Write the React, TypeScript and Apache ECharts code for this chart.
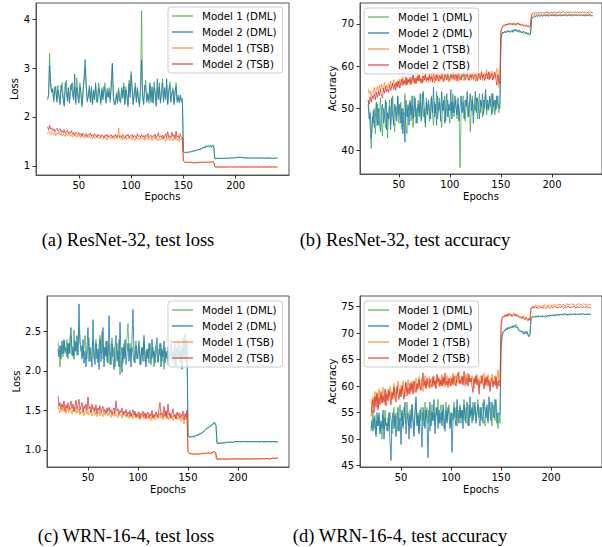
import React, { useEffect, useRef } from "react";
import * as echarts from "echarts";

// Epoch indices (x values) shared by all series
const epochs: number[] = Array.from({ length: 221 }, (_, i) => 20 + i);

const seriesNames = ["Model 1 (DML)", "Model 2 (DML)", "Model 1 (TSB)", "Model 2 (TSB)"];

// (a) ResNet-32, test loss
const aDml1 = [2.40,2.45,3.30,2.60,2.52,2.55,2.30,2.62,2.48,2.35,
2.65,2.40,2.30,2.55,2.70,2.45,2.25,2.60,2.75,2.40,
2.50,2.30,2.65,2.55,2.70,2.40,2.62,2.25,2.80,2.50,
2.35,2.70,2.45,2.20,2.55,2.75,3.00,2.60,2.30,2.45,
2.65,2.35,2.55,2.28,2.50,2.40,2.62,2.30,2.48,2.70,
2.45,2.25,2.60,2.40,2.55,2.70,2.35,2.50,2.42,2.60,
2.30,2.75,3.05,2.45,2.30,2.25,2.50,2.35,2.60,2.40,
2.28,2.55,2.45,2.70,2.30,2.62,2.40,2.20,2.75,2.50,
2.93,2.60,2.30,2.45,2.70,2.35,2.55,2.40,2.20,2.62,
4.17,2.45,2.30,2.60,2.75,2.35,2.50,2.28,2.65,2.40,
2.55,2.30,2.72,2.45,2.25,2.60,2.40,2.70,2.32,2.50,
2.78,2.35,2.55,2.40,2.65,2.28,2.50,2.72,2.38,2.45,
2.60,2.30,2.48,2.70,2.35,2.45,2.28,2.42,2.30,2.35,
1.30,1.28,1.27,1.28,1.29,1.27,1.28,1.30,1.29,1.31,
1.30,1.32,1.31,1.33,1.34,1.33,1.35,1.36,1.35,1.38,
1.40,1.37,1.42,1.39,1.41,1.38,1.42,1.40,1.43,1.41,
1.16,1.15,1.15,1.16,1.15,1.16,1.15,1.16,1.16,1.15,
1.16,1.16,1.15,1.16,1.17,1.16,1.16,1.17,1.16,1.17,
1.17,1.18,1.17,1.18,1.18,1.17,1.18,1.17,1.17,1.16,
1.17,1.16,1.16,1.17,1.16,1.16,1.17,1.16,1.16,1.16,
1.16,1.17,1.16,1.16,1.16,1.17,1.16,1.16,1.15,1.16,
1.16,1.16,1.17,1.16,1.16,1.15,1.16,1.16,1.16,1.17,1.16];
const aDml2 = [2.35,2.42,3.05,2.70,2.50,2.58,2.35,2.55,2.62,2.30,
2.55,2.45,2.25,2.65,2.50,2.35,2.22,2.70,2.55,2.32,
2.60,2.28,2.55,2.68,2.45,2.35,2.88,2.30,2.60,2.42,
2.28,2.62,2.50,2.25,2.48,2.80,3.17,2.70,2.35,2.40,
2.58,2.30,2.62,2.25,2.55,2.35,2.70,2.40,2.30,2.60,
2.50,2.30,2.55,2.35,2.62,2.48,2.28,2.58,2.40,2.52,
2.35,2.60,3.10,2.40,2.25,2.30,2.45,2.28,2.55,2.32,
2.35,2.60,2.38,2.62,2.25,2.55,2.45,2.25,2.68,2.40,
2.85,2.55,2.25,2.50,2.62,2.30,2.60,2.35,2.25,2.55,
3.17,2.40,2.25,2.65,2.58,2.30,2.45,2.35,2.70,2.30,
2.62,2.28,2.60,2.50,2.22,2.78,2.35,2.62,2.28,2.45,
2.70,2.30,2.60,2.35,2.78,2.25,2.55,2.65,2.30,2.50,
2.55,2.25,2.52,2.62,2.30,2.40,2.32,2.45,2.35,2.38,
1.29,1.28,1.27,1.27,1.28,1.28,1.29,1.29,1.30,1.30,
1.31,1.31,1.32,1.32,1.33,1.34,1.34,1.35,1.37,1.36,
1.39,1.38,1.41,1.40,1.42,1.39,1.41,1.38,1.42,1.40,
1.15,1.15,1.16,1.15,1.16,1.15,1.16,1.15,1.15,1.16,
1.15,1.16,1.16,1.15,1.16,1.16,1.17,1.16,1.17,1.17,
1.17,1.17,1.18,1.17,1.17,1.18,1.17,1.17,1.16,1.17,
1.16,1.17,1.16,1.16,1.16,1.17,1.16,1.16,1.17,1.16,
1.16,1.16,1.16,1.17,1.16,1.16,1.16,1.16,1.16,1.16,
1.16,1.17,1.16,1.16,1.16,1.16,1.15,1.16,1.16,1.16,1.16];
const aTsb1 = [1.66,1.72,1.68,1.63,1.70,1.66,1.64,1.69,1.62,1.67,
1.65,1.70,1.63,1.67,1.61,1.66,1.64,1.60,1.68,1.63,
1.62,1.66,1.60,1.64,1.59,1.65,1.61,1.63,1.58,1.64,
1.60,1.62,1.58,1.66,1.59,1.61,1.57,1.63,1.60,1.58,
1.62,1.57,1.60,1.55,1.61,1.58,1.56,1.62,1.57,1.59,
1.55,1.60,1.57,1.54,1.61,1.56,1.58,1.53,1.60,1.57,
1.55,1.59,1.56,1.61,1.54,1.58,1.60,1.56,1.78,1.57,
1.55,1.60,1.53,1.58,1.56,1.61,1.54,1.57,1.59,1.55,
1.58,1.53,1.60,1.56,1.52,1.59,1.55,1.57,1.53,1.60,
1.56,1.54,1.58,1.52,1.57,1.55,1.59,1.53,1.56,1.58,
1.52,1.57,1.55,1.60,1.53,1.56,1.51,1.58,1.54,1.57,
1.53,1.62,1.55,1.50,1.57,1.54,1.59,1.52,1.56,1.55,
1.51,1.58,1.54,1.60,1.52,1.56,1.50,1.55,1.53,1.58,
1.12,1.09,1.08,1.08,1.07,1.08,1.07,1.07,1.08,1.07,
1.07,1.06,1.07,1.07,1.06,1.07,1.07,1.08,1.07,1.07,
1.08,1.07,1.08,1.07,1.08,1.08,1.07,1.09,1.08,1.08,
0.99,0.98,0.98,0.99,0.98,0.99,0.98,0.98,0.99,0.98,
0.99,0.98,0.98,0.99,0.98,0.98,0.99,0.98,0.99,0.98,
0.98,0.99,0.98,0.98,0.99,0.98,0.99,0.98,0.98,0.99,
0.98,0.98,0.99,0.98,0.98,0.99,0.98,0.98,0.99,0.98,
0.99,0.98,0.98,0.98,0.99,0.98,0.98,0.99,0.98,0.98,
0.99,0.98,0.98,0.99,0.98,0.98,0.99,0.98,0.98,0.99,0.98];
const aTsb2 = [1.80,1.74,1.83,1.75,1.78,1.72,1.76,1.70,1.74,1.77,
1.71,1.73,1.76,1.69,1.72,1.68,1.74,1.67,1.71,1.73,
1.66,1.70,1.67,1.72,1.65,1.68,1.63,1.69,1.66,1.64,
1.68,1.63,1.66,1.61,1.67,1.64,1.62,1.66,1.60,1.65,
1.63,1.67,1.61,1.64,1.60,1.66,1.62,1.59,1.65,1.61,
1.63,1.59,1.64,1.61,1.58,1.63,1.60,1.65,1.59,1.62,
1.60,1.64,1.58,1.62,1.60,1.65,1.58,1.63,1.61,1.59,
1.62,1.58,1.64,1.60,1.57,1.63,1.61,1.65,1.58,1.62,
1.60,1.64,1.58,1.63,1.61,1.57,1.66,1.60,1.62,1.58,
1.64,1.59,1.62,1.57,1.63,1.60,1.66,1.58,1.61,1.63,
1.58,1.62,1.60,1.65,1.57,1.61,1.68,1.59,1.62,1.58,
1.63,1.56,1.60,1.66,1.58,1.70,1.59,1.62,1.57,1.69,
1.60,1.64,1.57,1.71,1.59,1.62,1.56,1.66,1.58,1.57,
1.10,1.08,1.07,1.07,1.08,1.07,1.07,1.08,1.07,1.06,
1.07,1.07,1.06,1.07,1.07,1.08,1.07,1.07,1.08,1.07,
1.08,1.08,1.07,1.08,1.08,1.07,1.08,1.09,1.08,1.09,
0.98,0.97,0.98,0.98,0.97,0.98,0.98,0.97,0.98,0.98,
0.97,0.98,0.98,0.97,0.98,0.98,0.98,0.97,0.98,0.98,
0.98,0.97,0.98,0.98,0.98,0.97,0.98,0.98,0.97,0.98,
0.98,0.98,0.97,0.98,0.98,0.97,0.98,0.98,0.98,0.97,
0.98,0.98,0.97,0.98,0.98,0.98,0.97,0.98,0.98,0.98,
0.97,0.98,0.98,0.98,0.97,0.98,0.98,0.98,0.97,0.98,0.98];

// (b) ResNet-32, test accuracy
const bDml1 = [52.0,49.5,45.0,40.5,48.0,46.5,50.0,44.0,47.5,51.0,
46.0,49.0,52.5,47.0,43.5,50.0,48.0,45.5,51.5,43.0,
48.5,52.0,46.0,49.5,53.0,47.0,44.5,50.5,48.0,52.5,
46.5,49.0,51.5,45.0,50.0,48.5,53.5,46.0,44.0,51.0,
49.5,52.0,47.0,50.5,45.5,53.0,48.0,50.0,46.5,52.0,
49.0,51.5,47.5,53.5,48.0,50.0,45.5,52.5,49.5,51.0,
47.0,50.5,53.0,48.5,46.0,51.5,49.0,54.0,47.5,50.0,
52.5,48.0,45.5,51.0,49.5,53.0,47.0,50.5,52.0,48.5,
46.5,51.5,49.0,53.5,48.0,50.5,52.0,47.5,51.0,49.0,
36.0,48.5,51.5,53.0,49.5,47.0,52.0,50.0,48.0,51.5,
44.5,50.0,53.0,48.5,51.0,49.5,52.5,47.5,50.5,53.5,
49.0,51.5,48.0,52.0,50.0,53.0,48.5,51.0,49.5,52.5,
50.5,53.5,49.0,51.5,48.5,52.0,50.0,53.0,49.0,51.5,
66.5,67.5,68.0,67.8,68.2,67.9,68.4,68.1,68.3,67.9,
68.2,68.5,68.0,68.6,68.3,68.7,68.2,68.4,68.0,68.3,
67.9,68.2,67.8,68.1,67.7,67.9,67.5,67.8,67.3,67.6,
71.0,71.5,71.6,71.8,71.7,71.9,71.8,72.0,71.9,71.8,
72.0,71.9,72.1,72.0,71.8,72.1,72.0,72.2,71.9,72.1,
72.0,72.2,71.9,72.1,72.0,71.8,72.1,72.2,72.0,71.9,
72.1,72.0,72.2,71.9,72.1,72.0,72.3,72.1,71.9,72.2,
72.0,72.1,71.9,72.2,72.0,72.1,72.2,71.9,72.1,72.0,
72.2,72.0,72.1,71.9,72.2,72.0,72.1,72.3,72.0,72.1,72.0];
const bDml2 = [51.0,47.5,49.0,43.0,46.0,49.5,45.5,48.0,51.5,46.0,
50.0,47.0,44.5,49.5,51.0,46.5,48.5,52.0,45.0,49.0,
47.5,50.5,45.0,52.5,48.0,46.0,51.0,49.5,47.0,53.0,
48.5,51.0,46.5,50.0,44.0,49.0,42.0,52.0,48.0,50.5,
46.0,51.5,48.5,53.0,47.5,50.0,52.5,46.5,49.5,51.0,
48.0,53.5,47.0,50.5,54.0,49.0,46.5,51.5,48.5,52.0,
50.0,47.5,52.5,49.0,55.0,48.0,51.0,46.0,53.0,49.5,
51.5,47.0,54.0,49.5,52.0,46.5,50.5,53.5,48.0,51.0,
49.5,54.5,47.5,51.5,49.0,53.0,50.0,48.5,52.5,47.0,
50.5,53.0,49.0,51.5,47.5,52.0,50.5,54.0,48.0,51.0,
53.5,49.5,52.0,46.5,51.0,54.0,49.0,52.5,50.0,47.5,
52.0,50.5,53.5,48.5,51.5,54.5,49.5,52.0,50.0,53.0,
51.0,48.5,53.5,50.5,52.0,49.5,53.0,51.0,50.5,50.0,
67.0,67.8,68.1,67.9,68.3,68.0,68.2,68.5,68.1,68.4,
68.3,68.1,68.6,68.4,68.8,68.3,68.5,68.2,68.6,68.1,
68.2,67.9,68.3,68.0,67.8,68.1,67.6,67.9,67.4,67.7,
71.2,71.6,71.7,71.9,71.8,72.0,71.9,72.1,71.9,72.0,
72.1,71.9,72.0,72.2,71.9,72.1,72.0,71.8,72.1,72.0,
72.2,72.0,71.9,72.1,72.0,72.2,71.9,72.0,72.1,72.2,
71.9,72.1,72.0,72.2,72.1,71.9,72.0,72.2,72.1,72.0,
71.9,72.1,72.2,72.0,72.1,71.9,72.2,72.0,72.1,72.2,
72.0,72.1,71.9,72.2,72.0,72.1,72.0,72.2,72.1,71.9,72.0];
const bTsb1 = [54.7,53.5,54.2,53.0,54.0,53.8,55.0,53.6,54.4,55.2,
54.0,55.5,54.3,55.8,54.6,55.0,56.2,54.5,55.6,54.8,
56.0,55.2,56.5,54.9,55.8,56.8,55.3,56.1,55.0,56.6,
55.7,57.0,55.5,56.3,57.5,55.9,56.7,55.4,57.2,56.0,
56.8,55.6,57.4,56.2,57.9,56.5,55.8,57.1,56.4,58.0,
56.6,57.3,55.9,57.8,56.3,57.0,58.2,56.5,57.5,56.1,
57.7,56.4,58.3,56.8,57.2,56.0,57.9,56.6,58.5,57.0,
56.3,57.6,56.9,58.1,56.5,57.4,58.6,56.7,57.8,56.2,
57.5,58.4,56.8,57.2,58.8,56.6,57.9,57.1,58.3,56.4,
57.7,56.9,58.5,57.3,56.5,58.0,57.6,58.9,56.8,57.4,
58.2,56.7,57.8,59.0,57.1,56.4,58.6,57.3,56.9,58.4,
57.5,58.8,56.6,57.9,58.3,57.0,59.2,57.6,56.8,58.5,
57.4,58.9,57.8,56.9,58.2,57.3,59.5,59.0,55.0,56.5,
68.5,69.3,69.6,69.8,69.5,70.0,69.7,70.1,69.8,70.2,
69.9,70.1,69.7,70.3,70.0,69.8,70.2,69.9,70.1,69.6,
69.8,70.0,69.5,69.7,69.4,69.8,69.3,69.6,69.2,69.5,
72.0,72.2,72.1,72.3,72.0,72.2,72.1,72.3,72.2,72.0,
72.3,72.1,72.2,72.0,72.3,72.1,72.4,72.2,72.0,72.3,
72.1,72.2,72.4,72.1,72.3,72.0,72.2,72.1,72.3,72.2,
72.0,72.3,72.1,72.2,72.4,72.1,72.0,72.2,72.3,72.1,
72.2,72.0,72.3,72.1,72.2,72.0,72.3,72.1,71.9,72.2,
72.0,72.1,72.3,71.9,72.1,72.0,72.2,71.9,72.1,72.0,71.9];
const bTsb2 = [52.0,51.0,52.8,51.5,53.0,52.3,53.5,52.0,53.8,52.6,
54.0,53.0,54.5,53.3,52.5,54.8,53.6,55.2,53.9,54.6,
53.8,55.5,54.2,55.0,56.0,54.5,55.7,54.3,56.3,55.1,
56.5,54.8,55.9,57.0,55.4,56.6,55.8,57.5,55.6,56.9,
56.2,57.3,55.7,56.8,57.8,56.1,57.2,55.9,57.6,56.5,
57.9,56.3,57.0,56.0,57.7,56.8,58.0,56.4,57.3,56.7,
58.2,56.9,57.5,56.2,58.4,57.1,56.6,58.0,57.2,56.5,
57.8,56.9,58.6,57.0,56.3,58.1,57.4,56.8,58.3,57.1,
56.6,58.0,57.3,58.7,56.9,57.6,58.2,56.5,57.9,58.5,
57.2,56.7,58.1,57.5,58.8,56.8,57.4,58.3,57.0,56.6,
58.0,57.3,58.6,56.9,57.7,58.4,57.1,56.5,58.2,57.6,
56.8,58.5,57.2,58.0,56.6,57.9,58.3,57.0,58.7,56.9,
57.5,58.2,56.7,57.8,58.6,57.2,55.5,58.0,56.2,55.8,
68.0,69.0,69.5,69.6,69.9,69.7,70.0,69.8,70.2,69.9,
70.1,69.8,70.2,70.0,69.7,70.1,69.9,70.3,69.8,70.0,
69.7,69.9,69.6,69.8,69.5,69.7,69.4,69.6,69.3,69.5,
72.3,72.5,72.6,72.4,72.7,72.5,72.6,72.8,72.5,72.7,
72.6,72.8,72.5,72.7,72.6,72.9,72.6,72.7,72.5,72.8,
72.7,72.6,72.9,72.7,72.5,72.8,72.6,72.9,72.7,72.6,
72.8,73.0,72.7,72.6,72.9,72.7,72.8,72.6,72.9,72.7,
72.6,72.8,72.7,72.9,72.6,72.8,72.7,72.5,72.8,72.7,
72.9,72.6,72.8,72.7,72.5,72.8,72.6,72.7,72.9,72.6,72.7];

// (c) WRN-16-4, test loss
const cDml1 = [2.36,2.20,2.05,2.32,2.25,2.18,2.38,2.22,2.28,2.40,
2.15,2.35,2.22,2.45,2.28,2.18,2.52,2.25,2.35,2.20,
2.30,2.55,2.40,2.25,2.32,2.18,2.28,2.45,2.22,2.15,
2.35,2.42,2.20,2.12,2.28,2.38,2.15,2.25,2.40,2.18,
2.10,2.32,2.45,2.22,2.50,2.15,2.30,2.20,2.38,2.12,
2.25,2.35,2.08,2.28,2.42,2.18,2.30,2.05,2.25,2.35,
2.15,2.40,1.95,2.22,2.30,2.10,2.35,2.18,2.28,2.42,
2.60,2.25,2.35,2.18,2.30,2.22,2.12,2.28,2.38,2.20,
2.15,2.32,2.25,2.08,2.30,2.20,2.38,2.12,2.25,2.18,
2.28,2.10,2.35,2.22,2.15,2.30,2.05,2.25,2.32,2.18,
2.10,2.28,2.20,2.35,2.12,2.25,2.02,2.30,2.18,2.22,
2.08,2.25,2.15,2.32,2.20,2.12,2.28,2.05,2.22,2.30,
2.15,2.25,2.18,2.32,2.10,2.28,2.20,2.45,2.15,2.30,
1.20,1.17,1.16,1.17,1.16,1.17,1.18,1.17,1.18,1.18,
1.19,1.19,1.20,1.21,1.22,1.22,1.24,1.25,1.26,1.28,
1.27,1.29,1.30,1.31,1.32,1.33,1.34,1.33,1.30,1.09,
1.08,1.08,1.09,1.08,1.09,1.09,1.08,1.09,1.09,1.10,
1.09,1.10,1.09,1.10,1.10,1.09,1.10,1.11,1.10,1.10,
1.11,1.10,1.10,1.11,1.10,1.10,1.11,1.10,1.10,1.11,
1.10,1.10,1.11,1.10,1.10,1.11,1.10,1.10,1.10,1.11,
1.10,1.10,1.10,1.11,1.10,1.10,1.10,1.11,1.10,1.10,
1.10,1.11,1.10,1.10,1.10,1.11,1.10,1.10,1.11,1.10,1.10];
const cDml2 = [2.28,2.18,2.32,2.15,2.38,2.22,2.40,2.25,2.30,2.18,
2.35,2.22,2.42,2.55,2.20,2.30,2.15,2.38,2.25,2.45,
2.20,2.85,2.35,2.28,2.15,2.40,2.10,2.25,2.05,2.32,
2.55,2.12,2.30,2.18,2.05,2.65,2.20,2.08,2.35,2.15,
2.28,2.02,2.40,2.12,2.25,2.55,2.05,2.30,2.18,2.38,
2.10,2.70,2.25,2.08,2.35,2.15,2.02,2.30,2.45,2.12,
2.25,2.05,2.62,2.18,1.98,2.30,2.15,2.40,2.08,2.22,
2.35,2.12,2.28,2.05,2.40,2.78,2.20,2.10,2.32,2.15,
2.25,2.38,2.08,2.20,2.30,2.12,2.45,2.18,2.05,2.28,
2.15,2.35,2.22,2.08,2.40,2.18,2.25,2.10,2.30,2.42,
2.12,2.22,2.35,2.05,2.28,2.18,2.38,2.10,2.25,2.15,
2.30,2.08,2.22,2.40,2.12,2.25,2.18,2.35,2.05,2.28,
2.20,2.38,2.10,2.25,2.02,2.42,2.15,2.48,2.10,2.40,
1.18,1.16,1.16,1.16,1.17,1.16,1.17,1.17,1.18,1.19,
1.18,1.20,1.21,1.20,1.22,1.23,1.23,1.25,1.27,1.27,
1.28,1.28,1.30,1.30,1.32,1.32,1.35,1.34,1.31,1.08,
1.08,1.09,1.08,1.09,1.08,1.09,1.09,1.09,1.10,1.09,
1.10,1.09,1.10,1.10,1.09,1.10,1.10,1.10,1.11,1.10,
1.10,1.11,1.10,1.10,1.11,1.10,1.11,1.10,1.11,1.10,
1.10,1.11,1.10,1.10,1.11,1.10,1.10,1.11,1.10,1.10,
1.11,1.10,1.10,1.10,1.11,1.10,1.10,1.10,1.10,1.11,
1.10,1.10,1.11,1.10,1.10,1.10,1.11,1.10,1.10,1.10,1.10];
const cTsb1 = [1.55,1.50,1.47,1.53,1.49,1.56,1.48,1.52,1.46,1.54,
1.50,1.47,1.53,1.49,1.45,1.51,1.48,1.55,1.46,1.50,
1.47,1.52,1.44,1.49,1.46,1.51,1.43,1.48,1.52,1.45,
1.49,1.44,1.47,1.50,1.43,1.46,1.51,1.44,1.48,1.42,
1.46,1.49,1.43,1.47,1.45,1.42,1.48,1.44,1.46,1.50,
1.43,1.47,1.44,1.41,1.46,1.43,1.48,1.42,1.45,1.44,
1.41,1.46,1.43,1.45,1.40,1.44,1.47,1.42,1.45,1.41,
1.44,1.40,1.46,1.42,1.45,1.39,1.43,1.46,1.41,1.44,
1.40,1.43,1.38,1.45,1.41,1.44,1.39,1.42,1.46,1.40,
1.43,1.39,1.42,1.37,1.44,1.40,1.43,1.38,1.41,1.45,
1.39,1.42,1.47,1.40,1.43,1.38,1.44,1.41,1.50,1.39,
1.42,1.38,1.45,1.40,1.43,1.37,1.41,1.44,1.39,1.42,
1.38,1.43,1.40,1.36,1.42,1.39,1.33,1.41,1.38,1.45,
0.98,0.96,0.95,0.95,0.94,0.95,0.94,0.95,0.94,0.95,
0.95,0.94,0.95,0.95,0.96,0.95,0.95,0.96,0.95,0.96,
0.96,0.95,0.96,0.96,0.97,0.96,0.98,0.97,0.89,0.88,
0.89,0.88,0.88,0.88,0.89,0.88,0.88,0.88,0.89,0.88,
0.88,0.89,0.88,0.88,0.88,0.89,0.88,0.89,0.88,0.88,
0.89,0.88,0.88,0.89,0.88,0.88,0.89,0.88,0.89,0.88,
0.88,0.89,0.88,0.89,0.88,0.89,0.88,0.89,0.89,0.88,
0.89,0.88,0.89,0.89,0.88,0.89,0.89,0.88,0.89,0.89,
0.89,0.89,0.88,0.89,0.89,0.89,0.90,0.89,0.89,0.90,0.89];
const cTsb2 = [1.68,1.55,1.60,1.52,1.58,1.54,1.62,1.50,1.57,1.53,
1.60,1.51,1.56,1.62,1.52,1.58,1.49,1.55,1.63,1.51,
1.57,1.64,1.50,1.55,1.60,1.48,1.56,1.52,1.58,1.50,
1.67,1.52,1.55,1.47,1.58,1.51,1.54,1.49,1.57,1.46,
1.53,1.50,1.56,1.47,1.52,1.55,1.48,1.51,1.46,1.53,
1.49,1.54,1.47,1.51,1.45,1.50,1.53,1.46,1.62,1.49,
1.52,1.45,1.50,1.47,1.53,1.44,1.49,1.46,1.51,1.43,
1.48,1.45,1.50,1.42,1.47,1.51,1.44,1.49,1.41,1.46,
1.43,1.48,1.40,1.46,1.44,1.49,1.42,1.47,1.39,1.45,
1.48,1.41,1.46,1.43,1.50,1.40,1.45,1.42,1.48,1.44,
1.41,1.52,1.60,1.44,1.47,1.42,1.55,1.43,1.49,1.41,
1.58,1.44,1.47,1.40,1.46,1.52,1.42,1.45,1.39,1.48,
1.43,1.47,1.40,1.45,1.42,1.49,1.38,1.46,1.41,1.50,
0.97,0.96,0.95,0.95,0.95,0.94,0.95,0.95,0.94,0.95,
0.95,0.95,0.94,0.95,0.95,0.96,0.95,0.96,0.95,0.96,
0.96,0.96,0.95,0.96,0.96,0.97,0.98,0.97,0.96,0.88,
0.88,0.88,0.89,0.88,0.88,0.89,0.88,0.88,0.88,0.89,
0.88,0.88,0.89,0.88,0.89,0.88,0.88,0.89,0.88,0.89,
0.88,0.89,0.88,0.88,0.89,0.88,0.89,0.88,0.88,0.89,
0.89,0.88,0.89,0.88,0.88,0.89,0.89,0.88,0.89,0.88,
0.88,0.89,0.89,0.88,0.89,0.89,0.88,0.89,0.89,0.89,
0.89,0.88,0.89,0.89,0.89,0.90,0.89,0.89,0.89,0.90,0.90];

// (d) WRN-16-4, test accuracy
const dDml1 = [51.5,53.0,55.5,52.0,54.5,51.0,53.5,52.5,55.0,51.5,
53.0,50.0,54.5,52.0,55.5,53.0,51.5,54.0,52.5,55.0,
53.5,51.0,54.5,56.0,52.5,55.0,53.0,51.5,54.0,56.5,
53.5,55.0,52.0,56.0,54.5,53.0,57.0,54.0,52.5,55.5,
53.5,56.5,54.0,52.0,55.5,57.0,53.0,55.0,51.5,54.5,
56.0,53.5,55.0,52.5,57.0,54.0,56.0,53.0,55.5,51.5,
54.0,56.5,53.5,55.0,52.5,56.0,54.5,57.5,53.0,55.0,
56.5,53.5,55.5,52.0,54.5,57.0,53.5,55.5,56.5,54.0,
52.5,55.0,53.5,57.0,54.0,56.0,52.5,55.5,54.0,56.5,
53.0,55.5,54.0,57.5,53.5,56.0,55.0,52.5,56.5,54.0,
55.5,53.0,57.0,54.5,56.0,53.5,55.0,57.5,54.0,56.0,
53.5,55.5,57.0,54.0,52.5,56.0,54.5,53.0,55.5,57.0,
54.0,52.5,56.5,55.0,53.5,57.5,55.0,52.0,54.5,53.0,
66.5,69.0,70.0,70.3,70.5,70.8,70.6,71.0,70.9,71.2,
71.0,71.3,71.1,71.5,71.2,71.7,71.3,71.0,70.6,70.3,
70.5,70.2,69.9,70.3,70.0,70.4,70.1,69.7,69.4,69.8,
72.8,73.0,73.1,72.9,73.2,73.0,73.1,73.3,73.0,73.2,
73.1,73.3,73.0,73.2,73.1,72.9,73.2,73.3,73.1,73.4,
73.2,73.4,73.3,73.5,73.2,73.4,73.6,73.3,73.5,73.4,
73.6,73.4,73.5,73.7,73.4,73.6,73.5,73.3,73.6,73.5,
73.4,73.6,73.5,73.7,73.5,73.4,73.6,73.5,73.7,73.6,
73.5,73.7,73.6,73.4,73.6,73.5,73.7,73.6,73.4,73.6,73.5];
const dDml2 = [52.0,53.5,51.5,54.0,53.0,50.5,55.0,52.5,54.5,51.0,
53.5,52.0,55.5,50.0,54.0,52.5,53.0,51.5,55.0,49.5,
46.0,53.5,55.0,52.0,54.5,50.5,53.0,56.0,51.5,54.0,
49.0,55.5,52.5,54.0,57.0,51.0,53.5,55.0,50.0,54.5,
52.0,56.5,53.0,50.5,55.0,58.0,52.5,54.5,51.0,55.5,
53.0,48.5,56.0,54.0,52.0,55.5,53.0,46.5,54.5,57.0,
52.5,55.0,53.5,57.5,51.0,54.5,56.0,52.0,55.5,53.0,
55.0,52.5,56.5,54.0,51.5,55.5,53.0,56.0,54.5,52.0,
55.0,47.5,53.5,56.0,54.0,52.5,57.5,54.5,53.0,56.0,
54.0,55.5,52.0,56.5,54.5,53.0,57.0,55.0,52.5,58.0,
54.5,56.0,53.5,55.5,57.0,53.0,55.0,56.5,54.0,52.5,
56.0,54.5,53.0,57.5,55.5,54.0,56.5,53.5,58.0,55.0,
53.5,57.0,55.5,54.0,57.5,56.0,53.0,55.0,54.5,55.0,
68.0,69.5,70.3,70.5,70.4,70.9,70.7,71.1,70.8,71.0,
71.2,71.0,71.4,71.1,71.3,71.0,71.2,70.8,70.5,70.4,
70.2,70.4,70.0,69.8,70.2,69.9,70.3,69.6,69.3,69.9,
72.9,73.1,73.0,73.2,73.0,73.1,73.2,73.0,73.3,73.1,
73.2,73.0,73.3,73.1,73.2,73.3,73.1,73.4,73.2,73.3,
73.4,73.3,73.5,73.2,73.4,73.5,73.3,73.6,73.4,73.5,
73.5,73.6,73.4,73.5,73.7,73.5,73.4,73.6,73.5,73.7,
73.6,73.4,73.6,73.5,73.6,73.7,73.5,73.6,73.4,73.6,
73.6,73.5,73.7,73.5,73.6,73.4,73.6,73.5,73.7,73.5,73.6];
const dTsb1 = [57.5,55.0,58.0,56.5,59.0,57.0,58.5,56.0,59.5,57.5,
58.5,57.0,59.8,58.0,56.5,59.0,57.5,59.5,58.0,60.0,
57.5,59.0,58.3,60.5,57.8,59.5,58.5,61.0,59.0,58.0,
60.0,58.5,61.0,59.5,58.0,60.5,59.0,61.2,59.8,58.5,
60.8,59.5,61.0,58.8,60.0,61.5,59.2,60.5,61.8,59.5,
60.3,61.5,59.0,60.8,62.0,59.8,61.0,60.2,61.8,59.5,
60.8,61.5,60.0,62.0,59.8,61.2,60.5,61.8,59.9,61.0,
60.4,62.2,60.0,61.5,59.8,61.0,62.0,60.3,61.5,60.0,
61.8,60.5,62.5,60.2,61.3,62.0,60.6,61.5,62.8,60.4,
61.2,62.0,60.5,61.8,60.0,62.3,61.0,62.5,60.7,61.5,
60.8,62.0,61.2,59.5,61.8,60.5,62.2,61.0,59.8,61.5,
62.0,60.3,61.5,62.5,60.0,61.8,60.8,62.2,61.0,59.8,
61.5,62.3,60.5,61.0,62.0,60.0,61.5,63.0,60.5,61.2,
70.5,72.5,73.0,73.2,73.5,73.2,73.6,73.3,73.8,73.5,
73.6,73.2,73.5,73.8,73.4,73.6,73.2,73.5,73.3,73.0,
73.2,72.9,73.3,73.0,72.7,73.1,72.8,72.5,72.9,72.6,
74.8,75.0,75.2,74.9,75.1,75.3,75.0,75.2,74.9,75.1,
75.2,75.0,75.3,75.1,75.4,75.2,75.0,75.3,75.2,75.4,
75.1,75.3,75.2,75.5,75.3,75.1,75.4,75.2,75.5,75.3,
75.4,75.2,75.5,75.3,75.1,75.4,75.6,75.3,75.5,75.2,
75.4,75.6,75.3,75.5,75.2,75.4,75.3,75.5,75.6,75.3,
75.5,75.2,75.4,75.6,75.3,75.5,75.4,75.2,75.5,75.3,75.4];
const dTsb2 = [54.3,56.5,57.5,55.0,58.0,56.0,58.8,55.5,57.8,56.5,
59.0,56.8,58.2,57.0,59.5,56.3,58.5,57.2,59.2,57.8,
56.5,58.8,57.5,59.8,58.2,57.0,60.0,58.5,57.5,59.5,
58.0,60.2,58.8,57.5,59.5,60.8,58.2,59.7,58.5,60.5,
59.0,60.5,58.5,61.0,59.8,58.8,60.5,59.5,61.2,60.0,
59.2,60.8,62.5,60.0,61.0,59.5,61.5,60.2,59.8,61.3,
60.5,59.8,61.8,60.3,61.0,59.5,62.3,60.8,61.5,60.0,
61.2,60.0,61.8,60.5,62.5,60.2,61.0,59.8,61.5,60.8,
60.0,61.5,60.3,62.0,61.0,60.0,61.8,62.5,60.5,61.2,
60.5,61.8,60.2,62.8,61.0,60.3,61.5,60.0,62.2,60.8,
61.5,60.0,58.8,61.5,60.5,62.0,60.2,61.3,58.5,61.0,
60.5,62.0,60.8,59.5,61.5,60.2,61.8,60.0,61.2,59.0,
60.8,61.5,59.8,61.0,60.2,61.8,59.5,61.0,60.0,60.5,
71.5,72.8,73.2,73.0,73.4,73.1,73.5,73.2,73.6,73.3,
73.5,73.1,73.4,73.6,73.2,73.5,73.1,73.3,73.0,72.8,
73.0,72.7,73.1,72.8,72.5,72.9,72.6,72.3,72.7,72.4,
74.5,74.8,74.9,74.7,75.0,74.8,74.9,74.6,74.8,75.0,
74.8,74.9,74.7,75.0,74.8,74.6,74.9,75.1,74.8,74.7,
74.9,75.0,74.7,74.9,75.1,74.8,74.9,74.7,75.0,74.8,
74.9,75.1,74.8,74.7,75.0,74.9,74.8,75.1,74.9,74.7,
75.0,74.8,74.9,75.1,74.8,74.7,75.0,74.9,74.8,75.0,
74.9,74.7,74.9,75.0,74.8,74.9,75.1,74.8,74.7,74.9,74.8];

const xTicks = [50, 100, 150, 200];
const yTicksA = [1, 2, 3, 4];
const yTicksB = [40, 50, 60, 70];
const yTicksC = [1.0, 1.5, 2.0, 2.5];
const yTicksD = [45, 50, 55, 60, 65, 70, 75];

const captions = [
  "(a) ResNet-32, test loss",
  "(b) ResNet-32, test accuracy",
  "(c) WRN-16-4, test loss",
  "(d) WRN-16-4, test accuracy",
];

const COLORS = [
  "rgba(44,160,44,0.65)",
  "rgba(31,119,180,0.8)",
  "rgba(255,127,14,0.7)",
  "rgba(214,39,40,0.7)",
];

const FONT = "DejaVu Sans";

export default function App() {
  const ref = useRef<HTMLDivElement>(null);
  useEffect(() => {
    if (!ref.current) return;
    const chart = echarts.init(ref.current, null, { renderer: "svg" });

    const panels = [
      { data: [aDml1, aDml2, aTsb1, aTsb2], grid: { left: 36, top: 3, width: 253, height: 172 },
        xMin: 9, xMax: 251, yMin: 0.816, yMax: 4.327, yTicks: yTicksA, yName: "Loss", yGap: 15, xGap: 16,
        legend: { left: 168, top: 7 }, fmt: (v: number) => String(v) },
      { data: [bDml1, bDml2, bTsb1, bTsb2], grid: { left: 360, top: 3, width: 245, height: 171 },
        xMin: 12, xMax: 249, yMin: 34.48, yMax: 74.97, yTicks: yTicksB, yName: "Accuracy", yGap: 23, xGap: 17,
        legend: { left: 364, top: 8 }, fmt: (v: number) => String(v) },
      { data: [cDml1, cDml2, cTsb1, cTsb2], grid: { left: 47, top: 296, width: 242, height: 171 },
        xMin: 9, xMax: 251, yMin: 0.782, yMax: 2.95, yTicks: yTicksC, yName: "Loss", yGap: 26, xGap: 17,
        legend: { left: 168, top: 301 }, fmt: (v: number) => v.toFixed(1) },
      { data: [dDml1, dDml2, dTsb1, dTsb2], grid: { left: 360, top: 296, width: 245, height: 171 },
        xMin: 9, xMax: 251, yMin: 44.76, yMax: 77.0, yTicks: yTicksD, yName: "Accuracy", yGap: 23, xGap: 17,
        legend: { left: 364, top: 301 }, fmt: (v: number) => String(v) },
    ];

    const axisLineStyle = { color: "#555", width: 1 };
    const labelStyle = { fontFamily: FONT, fontSize: 10, color: "#000" };

    const option: any = {
      animation: false,
      backgroundColor: "#fff",
      grid: panels.map((p) => ({ ...p.grid, show: true, borderColor: "#555", borderWidth: 1, containLabel: false })),
      xAxis: panels.map((p, i) => ({
        type: "value", gridIndex: i, min: p.xMin, max: p.xMax,
        name: "Epochs", nameLocation: "middle", nameGap: p.xGap,
        nameTextStyle: labelStyle,
        axisLine: { show: true, lineStyle: axisLineStyle },
        axisTick: { show: true, length: 3.5, lineStyle: { color: "#333" }, customValues: xTicks },
        axisLabel: { ...labelStyle, margin: 5, customValues: xTicks },
        splitLine: { show: false },
      })),
      yAxis: panels.map((p, i) => ({
        type: "value", gridIndex: i, min: p.yMin, max: p.yMax,
        name: p.yName, nameLocation: "middle", nameGap: p.yGap,
        nameTextStyle: labelStyle,
        axisLine: { show: true, lineStyle: axisLineStyle },
        axisTick: { show: true, length: 3.5, lineStyle: { color: "#333" }, customValues: p.yTicks },
        axisLabel: { ...labelStyle, margin: 6, customValues: p.yTicks, formatter: p.fmt },
        splitLine: { show: false },
      })),
      legend: panels.map((p) => ({
        orient: "vertical", left: p.legend.left, top: p.legend.top,
        padding: [3, 6, 3, 4], itemWidth: 21, itemHeight: 1.5, itemGap: 4, icon: "rect",
        backgroundColor: "rgba(255,255,255,0.8)", borderColor: "#cccccc", borderWidth: 1, borderRadius: 3,
        textStyle: { fontFamily: FONT, fontSize: 10.3, color: "#000", lineHeight: 12, padding: [0, 0, 0, 4] },
        selectedMode: false, data: seriesNames, z: 10,
      })),
      series: panels.flatMap((p, i) =>
        p.data.map((vals, k) => ({
          type: "line", name: seriesNames[k], xAxisIndex: i, yAxisIndex: i,
          symbol: "none", showSymbol: false, silent: true,
          lineStyle: { color: COLORS[k], width: 1 }, itemStyle: { color: COLORS[k] },
          data: vals.map((v, j) => [epochs[j], v]),
        }))
      ),
      graphic: [
        { type: "text", x: 128, y: 240, style: { text: captions[0], fill: "#000", font: "18.5px 'Liberation Serif'", align: "center", verticalAlign: "middle" } },
        { type: "text", x: 405, y: 240, style: { text: captions[1], fill: "#000", font: "18.5px 'Liberation Serif'", align: "center", verticalAlign: "middle" } },
        { type: "text", x: 126, y: 536, style: { text: captions[2], fill: "#000", font: "18.5px 'Liberation Serif'", align: "center", verticalAlign: "middle" } },
        { type: "text", x: 400, y: 536, style: { text: captions[3], fill: "#000", font: "18.5px 'Liberation Serif'", align: "center", verticalAlign: "middle" } },
      ],
    };

    chart.setOption(option);
    return () => chart.dispose();
  }, []);

  return (
    <div
      ref={ref}
      style={{ position: "fixed", left: 0, top: 0, width: 602, height: 547, overflow: "hidden" }}
    />
  );
}
